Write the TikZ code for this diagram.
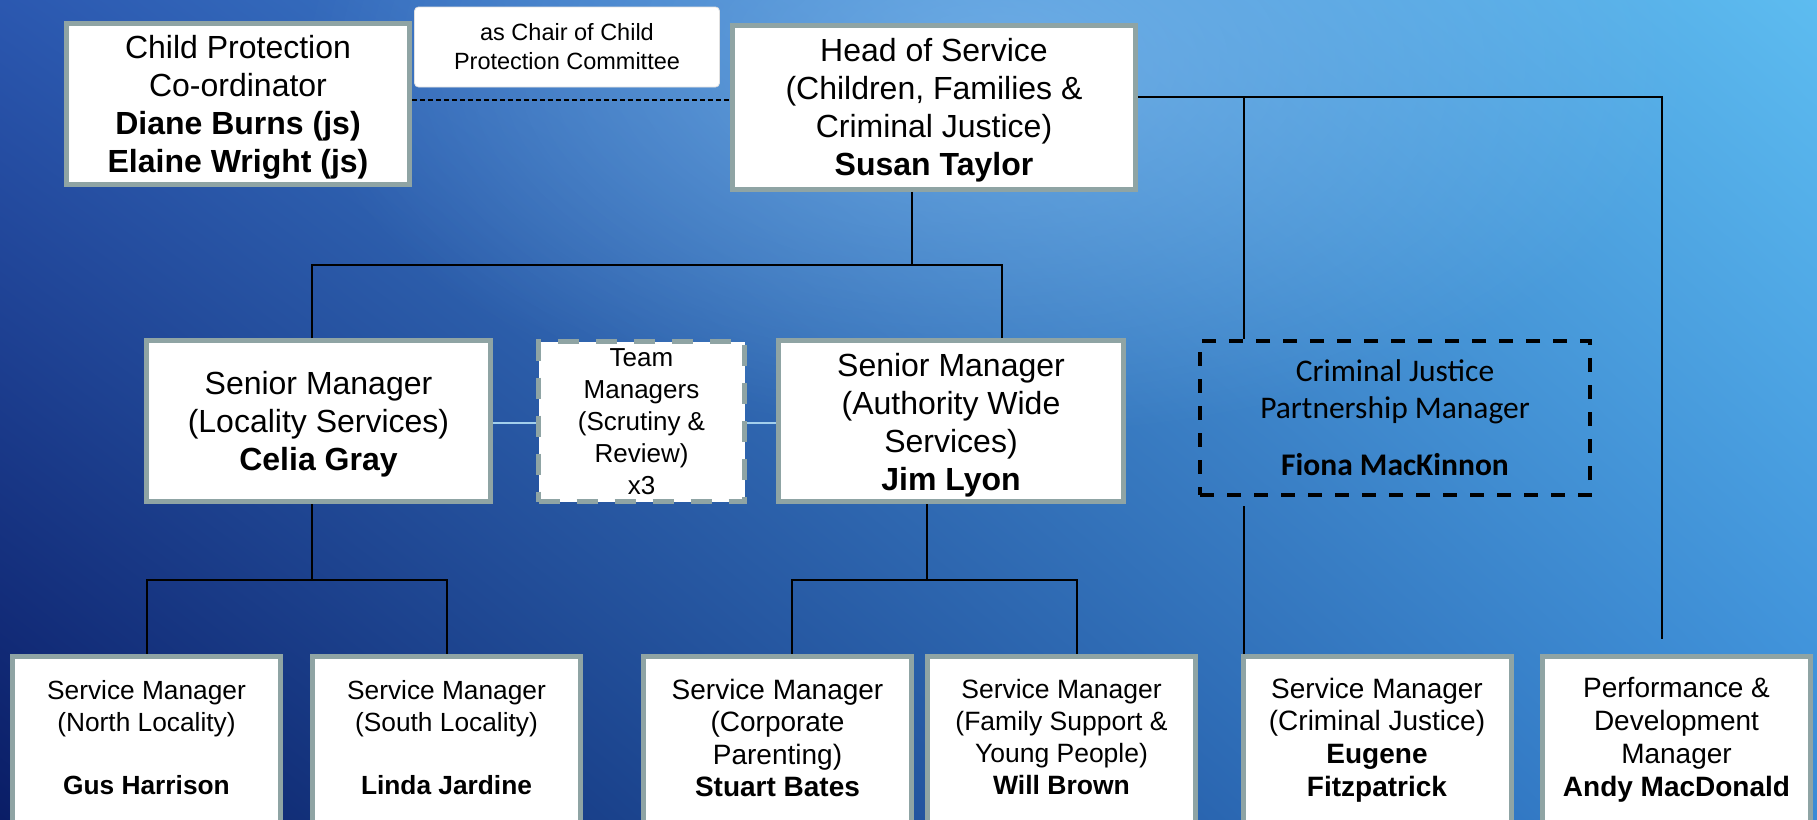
\documentclass[tikz,border=0pt]{standalone}
\usepackage{fontspec}
\setmainfont{Liberation Sans}
\newfontfamily\calfont{Carlito}
\usetikzlibrary{fadings,shadings}
\tikzfading[name=myglow, inner color=transparent!0, outer color=transparent!100]
\newcommand\tfix[1]{\rule{0pt}{#1}}
\newcommand\bfix[1]{\rule[-#1]{0pt}{#1}}
\definecolor{bordc}{HTML}{8FA4A4}
\definecolor{linkc}{HTML}{A3CFEC}
\definecolor{bgUL}{HTML}{2B58B0}
\definecolor{bgUR}{HTML}{5DBCF0}
\definecolor{bgLL}{HTML}{0A1D66}
\definecolor{bgLR}{HTML}{3A8AD6}
\definecolor{glow}{HTML}{8CC4F4}
\tikzset{
  box/.style={draw=bordc, line width=5pt, fill=white, align=center, inner sep=0pt, text=black},
  tmbox/.style={box, dash pattern=on 21pt off 17pt},
  cjbox/.style={draw=black, line width=4pt, dash pattern=on 14pt off 13pt, align=center, inner sep=0pt, text=black},
  chairbox/.style={draw=black!12, line width=0.8pt, fill=white, rounded corners=4pt, align=center, inner sep=0pt},
  fbig/.style={font=\fontsize{32}{38}\selectfont},
  fchair/.style={font=\fontsize{23.5}{29}\selectfont},
  fteam/.style={font=\fontsize{26}{32}\selectfont},
  fcj/.style={font=\calfont\fontsize{31.5}{37}\selectfont},
  row2/.style={minimum height=161pt},
  row3/.style={box, minimum width=268pt, minimum height=168pt},
  conn/.style={draw=black, line width=2pt},
  dashline/.style={draw=black, line width=1.5pt, dash pattern=on 5pt off 3pt},
  lightline/.style={draw=linkc, line width=2.5pt},
}
\begin{document}
\begin{tikzpicture}[x=1pt,y=-1pt]
\useasboundingbox (0,0) rectangle (1817,819);
\clip (0,0) rectangle (1817,819);
% background
\shade[upper left=bgUL, upper right=bgUR, lower left=bgLL, lower right=bgLR] (0,0) rectangle (1817,819);
\fill[glow, opacity=0.55, path fading=myglow] (1000,60) ellipse [x radius=700pt, y radius=380pt];

% top row
\node[box, fbig, minimum width=343pt, minimum height=161pt] (cp) at (238,104)
  {\tfix{29pt}Child Protection\\Co-ordinator\\\textbf{Diane Burns (js)}\\\textbf{Elaine Wright (js)}};
\node[chairbox, fchair, minimum width=305pt, minimum height=80pt] (chair) at (567,47)
  {as Chair of Child\\Protection Committee};
\node[box, fbig, minimum width=403pt, minimum height=164pt] (head) at (934,107.5)
  {\tfix{29pt}Head of Service\\(Children, Families \&\\Criminal Justice)\\\textbf{Susan Taylor}};

% second row
\node[box, fbig, row2, minimum width=344pt] (celia) at (318.5,421)
  {\tfix{29pt}Senior Manager\\(Locality Services)\\\textbf{Celia Gray}};
\node[tmbox, fteam, minimum width=206pt, minimum height=160pt] (team) at (641.5,421.5)
  {Team\\Managers\\(Scrutiny \&\\Review)\\x3};
\node[box, fbig, row2, minimum width=345pt] (jim) at (951,421)
  {\tfix{31pt}Senior Manager\\(Authority Wide\\Services)\\\textbf{Jim Lyon}};
\node[cjbox, fcj, minimum width=390pt, minimum height=154pt] (cj) at (1395,418)
  {Criminal Justice\\Partnership Manager\\[20pt]\textbf{Fiona MacKinnon}};

% third row
\node[row3, font=\fontsize{26.3}{31.6}\selectfont] (b1) at (146.5,740)
  {Service Manager\\(North Locality)\\\mbox{}\\\textbf{Gus Harrison}\bfix{5.4pt}};
\node[row3, font=\fontsize{26.3}{31.6}\selectfont] (b2) at (446.5,740)
  {Service Manager\\(South Locality)\\\mbox{}\\\textbf{Linda Jardine}\bfix{5.4pt}};
\node[row3, font=\fontsize{28}{32.5}\selectfont] (b3) at (777.5,740)
  {Service Manager\\(Corporate\\Parenting)\\\textbf{Stuart Bates}\bfix{4pt}};
\node[row3, font=\fontsize{26.5}{32}\selectfont] (b4) at (1061.5,740)
  {Service Manager\\(Family Support \&\\Young People)\\\textbf{Will Brown}\bfix{6.4pt}};
\node[row3, font=\fontsize{28}{32.8}\selectfont] (b5) at (1377,740)
  {Service Manager\\(Criminal Justice)\\\textbf{Eugene}\\\textbf{Fitzpatrick}};
\node[row3, font=\fontsize{28}{33.1}\selectfont] (b6) at (1676.5,740)
  {Performance \&\\Development\\Manager\\\textbf{Andy MacDonald}};

% connectors
\draw[dashline] ([yshift=4pt]cp.east) -- ([yshift=4pt]cp.east -| head.west);

\coordinate (bus1) at (0,265);
\coordinate (headout) at ([xshift=-22pt]head.south);
\coordinate (celiain) at ([xshift=-6.5pt]celia.north);
\coordinate (jimin) at ([xshift=51pt]jim.north);
\draw[conn] (headout) -- (headout |- bus1);
\draw[conn] (celiain) |- (jimin |- bus1) -- (jimin);

\coordinate (bus2) at (0,580);
\coordinate (celiaout) at ([xshift=-6.5pt]celia.south);
\draw[conn] (celiaout) -- (celiaout |- bus2);
\draw[conn] (b1.north) |- (b2.north |- bus2) -- (b2.north);

\coordinate (jimout) at ([xshift=-24pt]jim.south);
\coordinate (b3in) at ([xshift=14.5pt]b3.north);
\coordinate (b4in) at ([xshift=15.5pt]b4.north);
\draw[conn] (jimout) -- (jimout |- bus2);
\draw[conn] (b3in) |- (b4in |- bus2) -- (b4in);

\coordinate (hr) at ([yshift=10.5pt]head.east);
\coordinate (cjin) at ([xshift=-151pt]cj.north);
\coordinate (pdend) at ([xshift=-14.5pt,yshift=15pt]b6.north);
\draw[conn] (hr) -- (hr -| pdend) -- (pdend);
\draw[conn] (cjin |- hr) -- (cjin);

\coordinate (cjout) at ([xshift=-151pt,yshift=-9pt]cj.south);
\coordinate (b5in) at ([xshift=-133pt]b5.north);
\draw[conn] (cjout) -- (b5in);

\draw[lightline] ([yshift=-2pt]celia.east) -- ([yshift=-2pt]celia.east -| team.west);
\draw[lightline] ([yshift=-1.5pt]team.east) -- ([yshift=-1.5pt]team.east -| jim.west);
\end{tikzpicture}
\end{document}
